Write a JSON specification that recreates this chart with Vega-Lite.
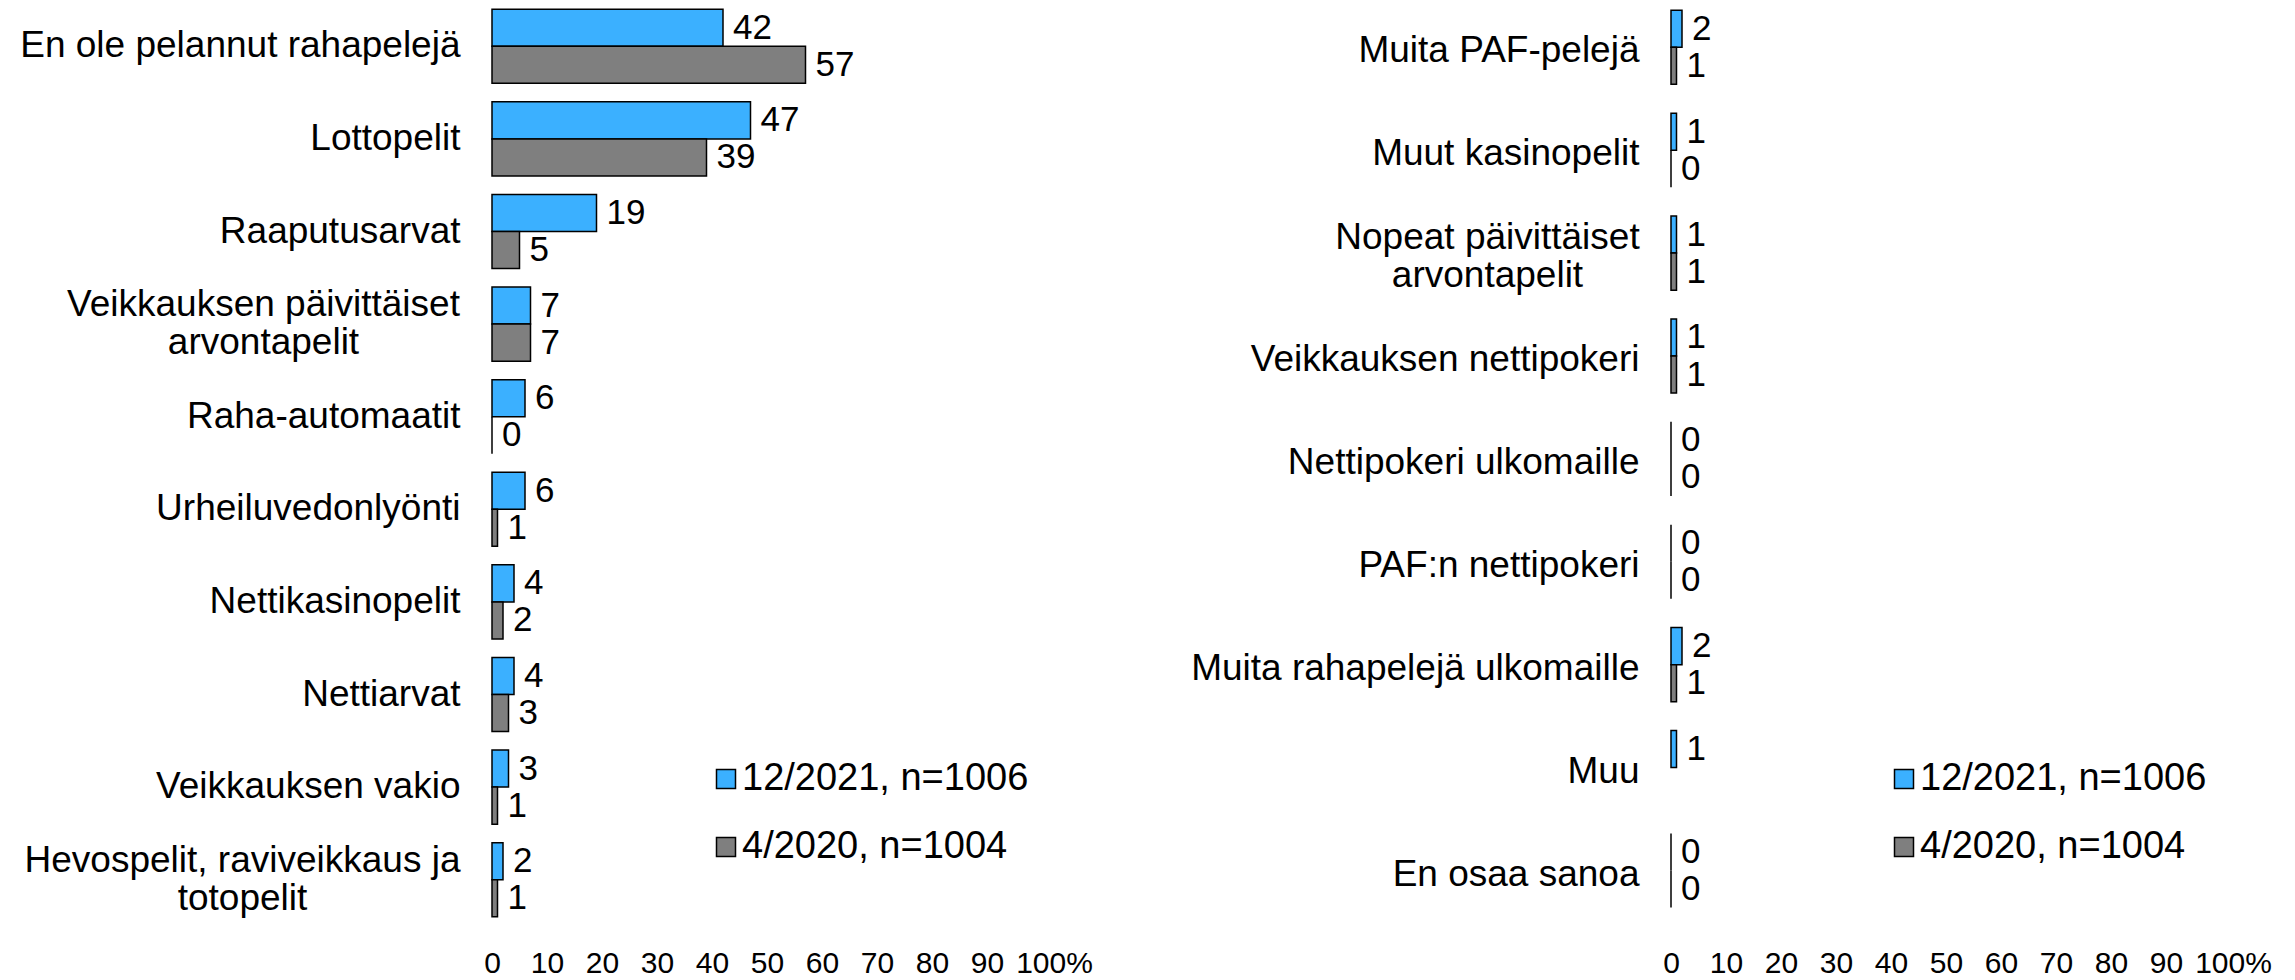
{
  "$schema": "https://vega.github.io/schema/vega-lite/v6.json",
  "autosize": {"type": "pad"},
  "padding": {"left": 19, "top": 0, "right": 0, "bottom": 0},
  "background": "white",
  "config": {
    "font": "Liberation Sans",
    "view": {"stroke": null},
    "axis": {"labelColor": "black", "labelFont": "Liberation Sans"},
    "legend": {"labelColor": "black", "labelFont": "Liberation Sans"}
  },
  "datasets": {
    "left": [
      {"cat": "En ole pelannut rahapelejä", "series": "12/2021, n=1006", "value": 42},
      {"cat": "En ole pelannut rahapelejä", "series": "4/2020, n=1004", "value": 57},
      {"cat": "Lottopelit", "series": "12/2021, n=1006", "value": 47},
      {"cat": "Lottopelit", "series": "4/2020, n=1004", "value": 39},
      {"cat": "Raaputusarvat", "series": "12/2021, n=1006", "value": 19},
      {"cat": "Raaputusarvat", "series": "4/2020, n=1004", "value": 5},
      {"cat": "Veikkauksen päivittäiset|arvontapelit", "series": "12/2021, n=1006", "value": 7},
      {"cat": "Veikkauksen päivittäiset|arvontapelit", "series": "4/2020, n=1004", "value": 7},
      {"cat": "Raha-automaatit", "series": "12/2021, n=1006", "value": 6},
      {"cat": "Raha-automaatit", "series": "4/2020, n=1004", "value": 0},
      {"cat": "Urheiluvedonlyönti", "series": "12/2021, n=1006", "value": 6},
      {"cat": "Urheiluvedonlyönti", "series": "4/2020, n=1004", "value": 1},
      {"cat": "Nettikasinopelit", "series": "12/2021, n=1006", "value": 4},
      {"cat": "Nettikasinopelit", "series": "4/2020, n=1004", "value": 2},
      {"cat": "Nettiarvat", "series": "12/2021, n=1006", "value": 4},
      {"cat": "Nettiarvat", "series": "4/2020, n=1004", "value": 3},
      {"cat": "Veikkauksen vakio", "series": "12/2021, n=1006", "value": 3},
      {"cat": "Veikkauksen vakio", "series": "4/2020, n=1004", "value": 1},
      {"cat": "Hevospelit, raviveikkaus ja|totopelit", "series": "12/2021, n=1006", "value": 2},
      {"cat": "Hevospelit, raviveikkaus ja|totopelit", "series": "4/2020, n=1004", "value": 1}
    ],
    "right": [
      {"cat": "Muita PAF-pelejä", "series": "12/2021, n=1006", "value": 2},
      {"cat": "Muita PAF-pelejä", "series": "4/2020, n=1004", "value": 1},
      {"cat": "Muut kasinopelit", "series": "12/2021, n=1006", "value": 1},
      {"cat": "Muut kasinopelit", "series": "4/2020, n=1004", "value": 0},
      {"cat": "Nopeat päivittäiset|arvontapelit", "series": "12/2021, n=1006", "value": 1},
      {"cat": "Nopeat päivittäiset|arvontapelit", "series": "4/2020, n=1004", "value": 1},
      {"cat": "Veikkauksen nettipokeri", "series": "12/2021, n=1006", "value": 1},
      {"cat": "Veikkauksen nettipokeri", "series": "4/2020, n=1004", "value": 1},
      {"cat": "Nettipokeri ulkomaille", "series": "12/2021, n=1006", "value": 0},
      {"cat": "Nettipokeri ulkomaille", "series": "4/2020, n=1004", "value": 0},
      {"cat": "PAF:n nettipokeri", "series": "12/2021, n=1006", "value": 0},
      {"cat": "PAF:n nettipokeri", "series": "4/2020, n=1004", "value": 0},
      {"cat": "Muita rahapelejä ulkomaille", "series": "12/2021, n=1006", "value": 2},
      {"cat": "Muita rahapelejä ulkomaille", "series": "4/2020, n=1004", "value": 1},
      {"cat": "Muu", "series": "12/2021, n=1006", "value": 1},
      {"cat": "En osaa sanoa", "series": "12/2021, n=1006", "value": 0},
      {"cat": "En osaa sanoa", "series": "4/2020, n=1004", "value": 0}
    ]
  },
  "spacing": 97,
  "resolve": {"legend": {"color": "independent"}},
  "hconcat": [
    {
      "data": {"name": "left"},
      "width": 550,
      "height": 926,
      "encoding": {
        "y": {
          "field": "cat", "type": "nominal", "sort": null,
          "scale": {"paddingInner": 0.2, "paddingOuter": 0.1},
          "axis": {
            "title": null, "labelExpr": "split(datum.label, '|')", "labelFontSize": 37,
            "labelPadding": {"condition": [{"test": "datum.value == 'Veikkauksen päivittäiset|arvontapelit'", "value": 229}, {"test": "indexof(datum.value, '|') >= 0", "value": 250}], "value": 32},
            "labelAlign": {"condition": {"test": "indexof(datum.value, '|') >= 0", "value": "center"}, "value": "right"},
            "labelOffset": {"condition": {"test": "indexof(datum.value, '|') >= 0", "value": -19}, "value": 0},
            "ticks": false, "domain": false, "labelLimit": 700, "labelLineHeight": 38
          }
        },
        "yOffset": {"field": "series", "type": "nominal", "sort": ["12/2021, n=1006", "4/2020, n=1004"]},
        "x": {
          "field": "value", "type": "quantitative",
          "scale": {"domain": [0, 100]},
          "axis": {"title": null, "values": [0, 10, 20, 30, 40, 50, 60, 70, 80, 90, 100], "labelExpr": "datum.value == 100 ? '100%' : datum.label", "labelOffset": {"condition": {"test": "datum.value == 100", "value": 12}, "value": 0}, "labelOverlap": false, "grid": false, "ticks": false, "domain": false, "labelFontSize": 30, "labelPadding": 22, "labelFlush": false}
        }
      },
      "layer": [
        {
          "mark": {"type": "bar", "stroke": "black", "strokeWidth": 1.5},
          "encoding": {
            "color": {
              "field": "series", "type": "nominal",
              "scale": {"domain": ["12/2021, n=1006", "4/2020, n=1004"], "range": ["#3BB0FF", "#7F7F7F"]},
              "legend": {"orient": "none", "legendX": 215, "legendY": 760, "title": null, "symbolType": "square", "symbolSize": 361, "symbolStrokeColor": "black", "symbolStrokeWidth": 1.5, "labelFontSize": 38, "labelOffset": -3, "rowPadding": 30, "padding": 0, "labelLimit": 500}
            }
          }
        },
        {
          "mark": {"type": "text", "align": "left", "baseline": "middle", "dx": 10, "fontSize": 35, "color": "black"},
          "encoding": {"text": {"field": "value", "type": "quantitative"}}
        }
      ]
    },
    {
      "data": {"name": "right"},
      "width": 550,
      "height": 926,
      "encoding": {
        "y": {
          "field": "cat", "type": "nominal", "sort": null,
          "scale": {"paddingInner": 0.2, "paddingOuter": 0.1},
          "axis": {
            "title": null, "labelExpr": "split(datum.label, '|')", "labelFontSize": 37,
            "labelPadding": {"condition": {"test": "indexof(datum.value, '|') >= 0", "value": 184}, "value": 32},
            "labelAlign": {"condition": {"test": "indexof(datum.value, '|') >= 0", "value": "center"}, "value": "right"},
            "labelOffset": {"condition": {"test": "indexof(datum.value, '|') >= 0", "value": -19}, "value": 0},
            "ticks": false, "domain": false, "labelLimit": 700, "labelLineHeight": 38
          }
        },
        "yOffset": {"field": "series", "type": "nominal", "sort": ["12/2021, n=1006", "4/2020, n=1004"], "scale": {"domain": ["12/2021, n=1006", "4/2020, n=1004"]}},
        "x": {
          "field": "value", "type": "quantitative",
          "scale": {"domain": [0, 100]},
          "axis": {"title": null, "values": [0, 10, 20, 30, 40, 50, 60, 70, 80, 90, 100], "labelExpr": "datum.value == 100 ? '100%' : datum.label", "labelOffset": {"condition": {"test": "datum.value == 100", "value": 12}, "value": 0}, "labelOverlap": false, "grid": false, "ticks": false, "domain": false, "labelFontSize": 30, "labelPadding": 22, "labelFlush": false}
        }
      },
      "layer": [
        {
          "mark": {"type": "bar", "stroke": "black", "strokeWidth": 1.5},
          "encoding": {
            "color": {
              "field": "series", "type": "nominal",
              "scale": {"domain": ["12/2021, n=1006", "4/2020, n=1004"], "range": ["#3BB0FF", "#7F7F7F"]},
              "legend": {"orient": "none", "legendX": 214, "legendY": 760, "title": null, "symbolType": "square", "symbolSize": 361, "symbolStrokeColor": "black", "symbolStrokeWidth": 1.5, "labelFontSize": 38, "labelOffset": -3, "rowPadding": 30, "padding": 0, "labelLimit": 500}
            }
          }
        },
        {
          "mark": {"type": "text", "align": "left", "baseline": "middle", "dx": 10, "fontSize": 35, "color": "black"},
          "encoding": {"text": {"field": "value", "type": "quantitative"}}
        }
      ]
    }
  ]
}
